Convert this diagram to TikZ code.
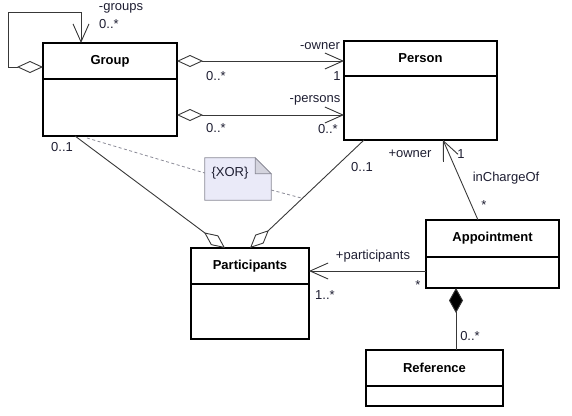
\documentclass[tikz,border=0pt]{standalone}
\usepackage{fontspec}
\setmainfont{Liberation Sans}
\usepackage{tikz}
\usetikzlibrary{arrows.meta, positioning}
\definecolor{umlline}{HTML}{383838}
\definecolor{notefill}{HTML}{EAEAF8}
\definecolor{notefold}{HTML}{D4D4DE}
\definecolor{notedraw}{HTML}{8A8A96}
\definecolor{lbltext}{HTML}{1E1E32}
\tikzset{
  opendiamond/.tip={Diamond[length=26pt, width=12pt, fill=white]},
  openarrow/.tip={Straight Barb[length=18pt, width=16pt]}
}

\begin{document}
\begin{tikzpicture}[
  x=1pt, y=-1pt,
  classhead/.style={rectangle, draw=black, line width=1.1pt, outer sep=0pt, inner sep=0pt, font=\fontsize{13}{15}\selectfont\bfseries},
  classbody/.style={rectangle, draw=black, line width=1.1pt, outer sep=0pt, inner sep=0pt},
  assoc/.style={draw=umlline, line width=0.9pt},
  dashline/.style={draw=notedraw, line width=0.8pt, dash pattern=on 3pt off 2.5pt},
  lbl/.style={inner sep=0pt, text=lbltext, font=\fontsize{13}{15}\selectfont}
]
  \useasboundingbox (0,0) rectangle (572,415);

  % Classes
  \node[classhead, minimum width=134pt, minimum height=36pt] (group) at (110,61) {Group};
  \node[classbody, below=0pt of group, minimum width=134pt, minimum height=57pt] (groupb) {};

  \node[classhead, minimum width=153pt, minimum height=35pt] (person) at (420.5,58.5) {Person};
  \node[classbody, below=0pt of person, minimum width=153pt, minimum height=64pt] (personb) {};

  \node[classhead, minimum width=118pt, minimum height=36pt] (part) at (250,266) {Participants};
  \node[classbody, below=0pt of part, minimum width=118pt, minimum height=55pt] (partb) {};

  \node[classhead, minimum width=133pt, minimum height=37pt] (appt) at (492.5,238.5) {Appointment};
  \node[classbody, below=0pt of appt, minimum width=133pt, minimum height=31pt] (apptb) {};

  \node[classhead, minimum width=137pt, minimum height=36pt] (ref) at (434.5,368) {Reference};
  \node[classbody, below=0pt of ref, minimum width=137pt, minimum height=20pt] (refb) {};

  % XOR note
  \node[minimum width=66pt, minimum height=42pt, inner sep=0pt] (xor) at (238,179) {};
  \filldraw[fill=notefill, draw=notedraw, line width=0.8pt] (xor.south west) -- (xor.north west)
    -- ([xshift=-16pt]xor.north east) -- ([yshift=-16pt]xor.north east) -- (xor.south east) -- cycle;
  \filldraw[fill=notefold, draw=notedraw, line width=0.8pt] ([xshift=-16pt]xor.north east)
    -- ([xshift=-16pt,yshift=-16pt]xor.north east) -- ([yshift=-16pt]xor.north east) -- cycle;
  \node[lbl] (xortext) at ([xshift=-8pt,yshift=6pt]xor.center) {\{XOR\}};

  % Self association of Group
  \draw[assoc, opendiamond-openarrow] ([yshift=-6pt]group.west) -- ++(-35,0)
    |- ([xshift=-29pt,yshift=31pt]group.north) -- ([xshift=-29pt]group.north);

  % Group to Person
  \draw[assoc, opendiamond-openarrow] (group.east) -- (group.east -| person.west);
  \draw[assoc, opendiamond-openarrow] ([yshift=-7.5pt]groupb.east) -- ([yshift=-7.5pt]groupb.east -| personb.west);

  % Participants aggregations
  \draw[assoc, -opendiamond] ([xshift=-35pt]groupb.south) -- ([xshift=-25pt]part.north);
  \draw[assoc, -opendiamond] ([xshift=-56.5pt]personb.south) -- coordinate[pos=0.54] (xorb) (part.north);

  % XOR constraint links
  \draw[dashline] ([xshift=-23pt,yshift=-2pt]groupb.south) -- ([yshift=6pt]xor.west);
  \draw[dashline] ([yshift=-11pt]xor.east) -- (xorb);

  % Appointment links
  \draw[assoc, -openarrow] ([xshift=-14.5pt]appt.north) -- ([xshift=22.5pt]personb.south);
  \draw[assoc] ([xshift=22.5pt]personb.south) -- ++(0,22);
  \draw[assoc, -openarrow] ([yshift=1.5pt]apptb.west) -- ([yshift=1.5pt]apptb.west -| part.east);
  \draw[assoc, {Diamond[length=25pt, width=14pt, fill=black]}-] ([xshift=-36.5pt]apptb.south)
    -- ([xshift=-36.5pt]apptb.south |- ref.north);

  % Role names and multiplicities
  \node[lbl] (lgroups) at (121,8) {-groups};
  \node[lbl] (mgroups) at (109,24) {0..*};
  \node[lbl] (mowner) at (216,76) {0..*};
  \node[lbl] (mpersonsg) at (216,128) {0..*};
  \node[lbl] (lowner) at (320,46) {-owner};
  \node[lbl] (mone) at (337,76) {1};
  \node[lbl] (lpersons) at (315,100) {-persons};
  \node[lbl] (mpersons) at (328,129) {0..*};
  \node[lbl] (mgpart) at (62,147) {0..1};
  \node[lbl] (mppart) at (362,167) {0..1};
  \node[lbl] (lpowner) at (410,154) {+owner};
  \node[lbl] (mpone) at (461,154) {1};
  \node[lbl] (lcharge) at (506,178) {inChargeOf};
  \node[lbl] (mcharge) at (484,205) {*};
  \node[lbl] (lparts) at (373,256) {+participants};
  \node[lbl] (mparts) at (325,295) {1..*};
  \node[lbl] (mappt) at (418,285) {*};
  \node[lbl] (mref) at (470,336) {0..*};
\end{tikzpicture}
\end{document}
